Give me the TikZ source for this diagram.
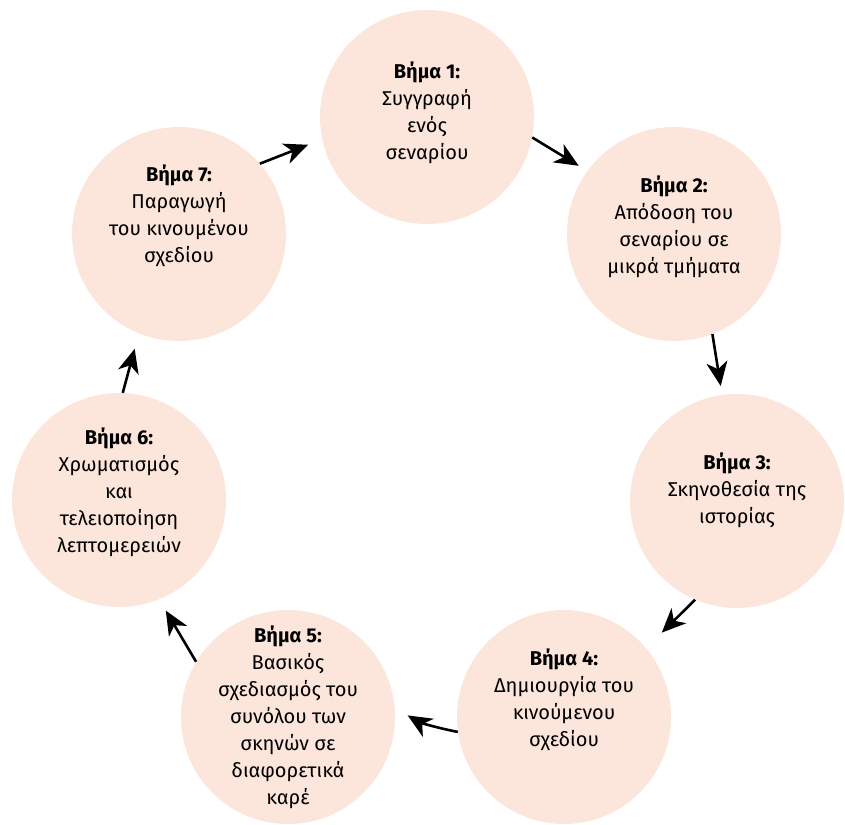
\documentclass[tikz,border=0pt]{standalone}
\usepackage{fontspec}
\setmainfont{Fira Sans}
\usetikzlibrary{arrows.meta}
\definecolor{peach}{HTML}{FCE5DB}

\begin{document}
\begin{tikzpicture}
	[x=1pt, y=-1pt,
	stepcircle/.style={circle, fill=peach, minimum size=214pt, inner sep=0pt},
	steptext/.style={align=center, font=\fontsize{20}{27}\selectfont},
	steparrow/.style={-{Stealth[length=24pt, width=21pt, inset=7pt]}, line width=2.6pt}]
	
	\useasboundingbox (0,0) rectangle (845,824);
	
	% circles
	\node [stepcircle] (s1) at (427,117) {};
	\node [stepcircle] (s2) at (674,234) {};
	\node [stepcircle] (s3) at (737,501) {};
	\node [stepcircle] (s4) at (564,717) {};
	\node [stepcircle] (s5) at (288,717) {};
	\node [stepcircle] (s6) at (119,500) {};
	\node [stepcircle] (s7) at (179,234) {};
	
	% texts
	\node [steptext, yshift=4pt] (t1) at (s1) {\textbf{Βήμα 1:}\\Συγγραφή\\ενός\\σεναρίου};
	\node [steptext, yshift=7pt] (t2) at (s2) {\textbf{Βήμα 2:}\\Απόδοση του\\σεναρίου σε\\μικρά τμήματα};
	\node [steptext, yshift=11pt] (t3) at (s3) {\textbf{Βήμα 3:}\\Σκηνοθεσία της\\ιστορίας};
	\node [steptext, yshift=17pt] (t4) at (s4) {\textbf{Βήμα 4:}\\Δημιουργία του\\κινούμενου\\σχεδίου};
	\node [steptext] (t5) at (s5) {\textbf{Βήμα 5:}\\Βασικός\\σχεδιασμός του\\συνόλου των\\σκηνών σε\\διαφορετικά\\καρέ};
	\node [steptext, yshift=8pt] (t6) at (s6) {\textbf{Βήμα 6:}\\Χρωματισμός\\και\\τελειοποίηση\\λεπτομερειών};
	\node [steptext, yshift=18pt] (t7) at (s7) {\textbf{Βήμα 7:}\\Παραγωγή\\του κινουμένου\\σχεδίου};
	
	% arrows
	\draw [steparrow, shorten >=10pt] (s1.-11) -- (s2.144);
	\draw [steparrow, shorten >=9pt] (s2.-69) -- (s3.98);
	\draw [steparrow, shorten >=22pt] (s3.-113) -- (s4.40);
	\draw [steparrow, shorten >=15pt] (s4.188) to[bend left=10] (s5.5);
	\draw [steparrow, shorten >=13pt] (s5.149) -- (s6.-68);
	\draw [steparrow, shorten >=16pt] (s6.88) -- (s7.-112);
	\draw [steparrow, shorten >=15pt] (s7.41) -- (s1.192);
\end{tikzpicture}
\end{document}
